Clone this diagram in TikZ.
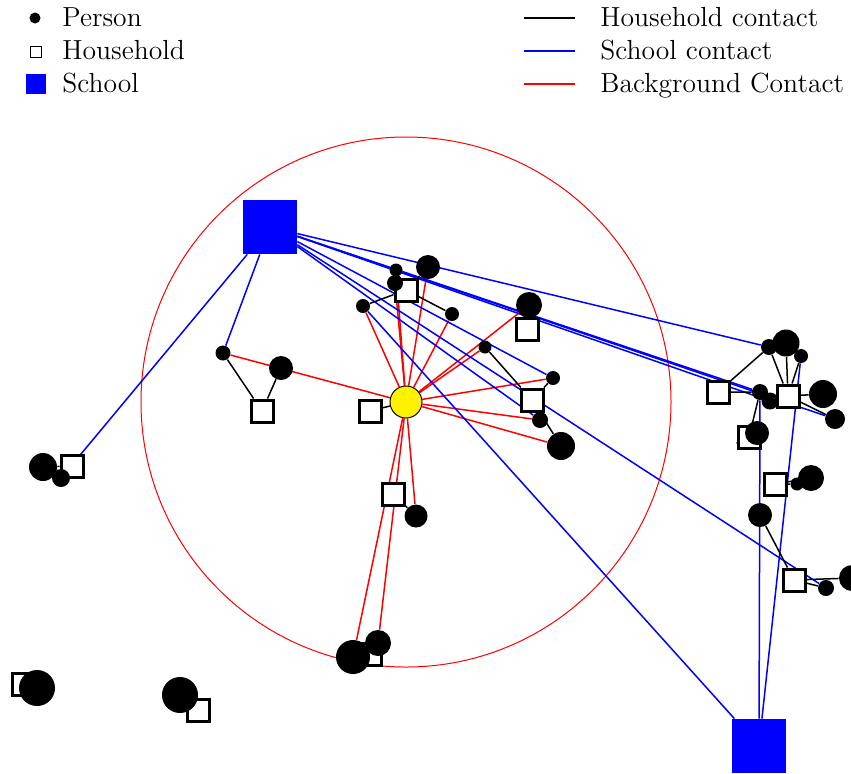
\documentclass[tikz,border=0pt]{standalone}
\usepackage{tikz}
\usetikzlibrary{backgrounds}

\begin{document}
\begin{tikzpicture}[x=.5pt, y=-.5pt,
    person/.style={circle, fill=black, inner sep=0pt, minimum size=#1pt},
    house/.style={rectangle, draw=black, line width=1.5pt, fill=white, inner sep=0pt, minimum size=11pt},
    school/.style={rectangle, fill=blue, inner sep=0pt, minimum size=27pt},
    infected/.style={circle, draw=black, line width=.5pt, fill=yellow, inner sep=0pt, minimum size=16pt},
    hcon/.style={black, line width=.75pt},
    scon/.style={blue, line width=.75pt},
    bcon/.style={red, line width=.75pt},
    lbl/.style={anchor=base west, inner sep=0pt, font=\fontsize{13.8}{16}\selectfont}]
  \useasboundingbox (0,0) rectangle (851,773);

  % legend
  \node (lp) at (35,18) [person=5.5] {};
  \node (lh) at (36,52) [rectangle, draw=black, line width=.6pt, fill=white, inner sep=0pt, minimum size=5.5pt] {};
  \node (ls) at (36,84) [school, minimum size=10pt] {};
  \node (tp) at (62,26) [lbl] {Person};
  \node (th) at (62,59.5) [lbl] {Household};
  \node (ts) at (62,92) [lbl] {School};
  \coordinate (hc1) at (524,18);   \coordinate (hc2) at (575,18);
  \coordinate (sc1) at (524,51);   \coordinate (sc2) at (575,51);
  \coordinate (bc1) at (524,84);   \coordinate (bc2) at (575,84);
  \draw[hcon] (hc1) -- (hc2);
  \draw[scon] (sc1) -- (sc2);
  \draw[bcon] (bc1) -- (bc2);
  \node (thc) at (600,26) [lbl] {Household contact};
  \node (tsc) at (600,59.5) [lbl] {School contact};
  \node (tbc) at (600,92) [lbl] {Background Contact};

  % households
  \node (h1) at (262,411) [house] {};
  \node (h2) at (370,411) [house] {};
  \node (h3) at (406,290) [house] {};
  \node (h4) at (527,329) [house] {};
  \node (h5) at (532,400) [house] {};
  \node (h6) at (393,494) [house] {};
  \node (h7) at (370,654) [house] {};
  \node (h8) at (72,466) [house] {};
  \node (h9) at (23,684) [house] {};
  \node (h10) at (198,710) [house] {};
  \node (h11) at (718,392) [house] {};
  \node (k5) at (770,401) [person=8.5] {};
  \node (h12) at (788,396) [house] {};
  \node (h13) at (749,437) [house] {};
  \node (h14) at (775,484) [house] {};
  \node (h15) at (794,580) [house] {};

  % persons
  \node (a1) at (223,353) [person=7.5] {};
  \node (a2) at (281,368) [person=12] {};
  \node (b1) at (363,306) [person=7] {};
  \node (b2) at (396,270) [person=6.5] {};
  \node (b3) at (395,283) [person=8] {};
  \node (b4) at (428,267) [person=12] {};
  \node (b5) at (452,314) [person=7] {};
  \node (c1) at (529,305) [person=13] {};
  \node (d1) at (485,347) [person=6.5] {};
  \node (d2) at (553,378) [person=7] {};
  \node (d3) at (540,420) [person=8] {};
  \node (d4) at (561,446) [person=14] {};
  \node (e1) at (416,516) [person=11.5] {};
  \node (f1) at (353,657) [person=17] {};
  \node (f2) at (378,643) [person=13] {};
  \node (g1) at (43,467) [person=14] {};
  \node (g2) at (61,478) [person=9] {};
  \node (i1) at (37,688) [person=18] {};
  \node (j1) at (180,695) [person=18] {};
  \node (k1) at (786,343) [person=13.5] {};
  \node (k2) at (769,347) [person=8] {};
  \node (k3) at (801,356) [person=7] {};
  \node (k4) at (760,392) [person=8] {};
  \node (k6) at (823,394) [person=14] {};
  \node (k7) at (835,419) [person=10] {};
  \node (k8) at (757,433) [person=12] {};
  \node (m1) at (797,484) [person=6.5] {};
  \node (m2) at (811,478) [person=13] {};
  \node (n1) at (760,515) [person=12] {};
  \node (n2) at (826,588) [person=8] {};
  \node (n3) at (852,578) [person=13] {};

  % schools and the infected person
  \node (s1) at (270,227) [school] {};
  \node (s2) at (759,746) [school] {};
  \node (inf) at (406,402) [infected] {};

  \begin{pgfonlayer}{background}
    \draw[red, line width=.5pt] (inf) circle [radius=265];
    \foreach \p in {a1,b1,b2,b3,b4,b5,c1,d1,d2,d3,d4,e1,f1,f2}
      \draw[bcon] (inf) -- (\p);
    \foreach \p in {a1,g2,k2,k4,k5,k7,d2,d3,n2}
      \draw[scon] (s1) -- (\p);
    \foreach \p in {b1,k3,k4}
      \draw[scon] (s2) -- (\p);
    \draw[hcon] (a1) to (h1) to (a2);
    \draw[hcon] (h2) to (inf);
    \draw[hcon] (b1) to (h3) to (b5);
    \draw[hcon] (b2) to (h3) to (b3);
    \draw[hcon] (b4) to (h3);
    \draw[hcon] (c1) to (h4);
    \draw[hcon] (d1) to (h5) to (d2);
    \draw[hcon] (d3) to (h5) to (d4);
    \draw[hcon] (h6) to (e1);
    \draw[hcon] (f1) to (h7) to (f2);
    \draw[hcon] (g1) to (h8) to (g2);
    \draw[hcon] (i1) to (h9);
    \draw[hcon] (j1) to (h10);
    \draw[hcon] (k2) to (h11) to (k4) to (h13) to (k8);
    \draw[hcon] (k2) to (h12) to (k3);
    \draw[hcon] (k1) to (h12) to (k6);
    \draw[hcon] (k5) to (h12) to (k7);
    \draw[hcon] (m1) to (h14) to (m2);
    \draw[hcon] (n1) to (h15) to (n2);
    \draw[hcon] (h15) to (n3);
  \end{pgfonlayer}
\end{tikzpicture}
\end{document}
